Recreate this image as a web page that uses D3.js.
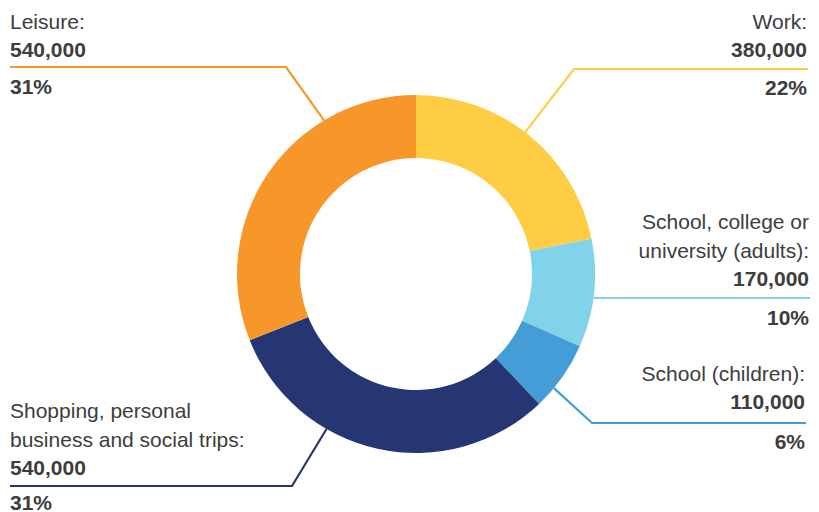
<!DOCTYPE html>
<html><head><meta charset="utf-8">
<script src="https://cdn.jsdelivr.net/npm/d3@7"></script>
<style>
html,body{margin:0;padding:0;background:#fff;}
svg{display:block;font-family:"Liberation Sans",Arial,Helvetica,sans-serif;}
</style></head>
<body>
<svg id="chart" width="819" height="512"></svg>
<script>
// ---- data ----
const categories = ["Work", "School, college or university (adults)", "School (children)", "Shopping, personal business and social trips", "Leisure"];
const labelLines = [["Work:"], ["School, college or", "university (adults):"], ["School (children):"], ["Shopping, personal", "business and social trips:"], ["Leisure:"]];
const values = [380000, 170000, 110000, 540000, 540000];
const percentLabels = ["22%", "10%", "6%", "31%", "31%"];
const colors = ["#FFCD44", "#81D3EA", "#459DD8", "#253672", "#F7972A"];

// ---- layout (not data) ----
const cx = 416, cy = 274, rOuter = 179, rInner = 116;
const lineH = 28.5;
const fontSize = 21;
// leader: angle on outer ring (deg, clockwise from top), elbow point, end x, text side
const leaders = [
  {angle: 37.6, elbow: [574, 69], endX: 808, side: "right", lastBaseline: 57, pctY: 95},
  {angle: 97.7, elbow: null, endX: 810, side: "right", lastBaseline: 286, pctY: 325},
  {angle: 129.6, elbow: [592, 423], endX: 806, side: "right", lastBaseline: 409, pctY: 449},
  {angle: 210.0, elbow: [292, 486], endX: 10, side: "left", lastBaseline: 475, pctY: 510},
  {angle: 329.1, elbow: [286, 67], endX: 10, side: "left", lastBaseline: 57, pctY: 94}
];

const svg = d3.select("#chart");
const fmt = d3.format(",");
const pie = d3.pie().sort(null).value(d => d)(values);
const arc = d3.arc().innerRadius(rInner).outerRadius(rOuter);

const g = svg.append("g").attr("transform", `translate(${cx},${cy})`);
g.selectAll("path").data(pie).join("path")
  .attr("d", arc)
  .attr("fill", (d, i) => colors[i]);

const textColor = "#3d3d3d";
leaders.forEach((L, i) => {
  const a = L.angle * Math.PI / 180;
  const sx = cx + rOuter * Math.sin(a), sy = cy - rOuter * Math.cos(a);
  const pts = [[sx, sy]];
  let lineY;
  if (L.elbow) { pts.push(L.elbow); lineY = L.elbow[1]; } else { lineY = sy; }
  pts.push([L.endX, lineY]);
  svg.append("path")
    .attr("d", d3.line()(pts))
    .attr("fill", "none")
    .attr("stroke", colors[i])
    .attr("stroke-width", 2.2);

  const anchor = L.side === "right" ? "end" : "start";
  const tx = L.side === "right" ? L.endX - 1 : L.endX;
  const lines = labelLines[i];
  const n = lines.length;
  lines.forEach((t, j) => {
    svg.append("text")
      .attr("x", tx).attr("y", L.lastBaseline - (n - j) * lineH)
      .attr("text-anchor", anchor)
      .attr("font-size", fontSize).attr("fill", textColor)
      .text(t);
  });
  svg.append("text")
    .attr("x", tx).attr("y", L.lastBaseline)
    .attr("text-anchor", anchor)
    .attr("font-size", fontSize).attr("font-weight", "bold").attr("fill", textColor)
    .text(fmt(values[i]));
  svg.append("text")
    .attr("x", tx).attr("y", L.pctY)
    .attr("text-anchor", anchor)
    .attr("font-size", fontSize).attr("font-weight", "bold").attr("fill", textColor)
    .text(percentLabels[i]);
});
</script>
</body></html>
